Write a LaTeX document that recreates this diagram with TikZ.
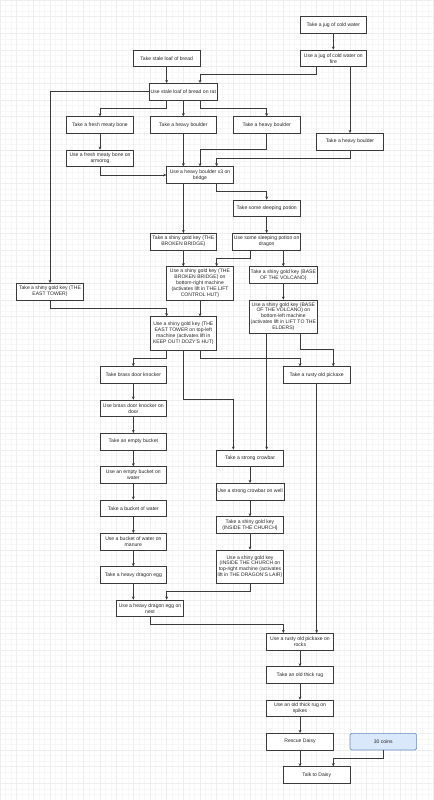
\documentclass[tikz,border=0pt]{standalone}
\usepackage{fontspec}
\setmainfont{Liberation Sans}
\usetikzlibrary{arrows.meta,calc}
\definecolor{boxline}{HTML}{3A3A3A}
\definecolor{gridminor}{HTML}{F7F7F7}
\definecolor{gridmajor}{HTML}{EEEEEE}
\definecolor{coinfill}{HTML}{DAE8FC}
\definecolor{coinline}{HTML}{6C8EBF}

\begin{document}
\begin{tikzpicture}[
        x=.15cm,y=-.15cm,>=Stealth,
        task/.style={rectangle,draw=boxline,line width=.5pt,fill=white,
          minimum width=1.8cm,minimum height=.45cm,inner sep=1pt,
          align=center,font=\fontsize{3.9}{4.6}\selectfont,text=black!85},
        tall/.style={task,minimum height=.9cm},
        reward/.style={task,draw=coinline,fill=coinfill,rounded corners=1.2pt},
        flow/.style={-{Stealth[length=2.4pt,width=2.2pt]},draw=boxline,
          line width=.5pt}
      ]
        % page and grid
        \useasboundingbox[fill=white] (0,0) rectangle (78.12,144);
        \foreach \i in {0,...,78} \draw[gridminor,line width=.3pt] (\i,0) -- (\i,144);
        \foreach \j in {0,...,144} \draw[gridminor,line width=.3pt] (0,\j) -- (78.12,\j);
        \foreach \i in {0,3,...,78} \draw[gridmajor,line width=.3pt] (\i,0) -- (\i,144);
        \foreach \j in {0,3,...,144} \draw[gridmajor,line width=.3pt] (0,\j) -- (78.12,\j);

        % top part
        \node[task] (jugT) at (60,4.5) {Take a jug of cold water};
        \node[task] (jugU) at (60,10.5) {Use a jug of cold water on\\fire};
        \node[task] (breadT) at (30,10.5) {Take stale loaf of bread};
        \node[task] (breadU) at (33,16.5) {Use stale loaf of bread on rat};
        \node[task] (boneT) at (18,22.5) {Take a fresh meaty bone};
        \node[task] (boulderA) at (33,22.5) {Take a heavy boulder};
        \node[task] (boulderB) at (48,22.5) {Take a heavy boulder};
        \node[task] (boulderC) at (63,25.5) {Take a heavy boulder};
        \node[task] (boneU) at (18,28.5) {Use a fresh meaty bone on\\armorog};
        \node[task] (boulderU) at (36,31.5) {Use a heavy boulder x3 on\\bridge};
        \node[task] (potionT) at (48,37.5) {Take some sleeping potion};
        \node[task] (keyBBT) at (33,43.5) {Take a shiny gold key (THE\\BROKEN BRIDGE)};
        \node[task] (potionU) at (48,43.5) {Use some sleeping potion on\\dragon};
        \node[tall] (keyBBU) at (36,51) {Use a shiny gold key (THE\\BROKEN BRIDGE) on\\bottom-right machine\\(activates lift in THE LIFT\\CONTROL HUT)};
        \node[task] (keyVT) at (51,49.5) {Take a shiny gold key (BASE\\OF THE VOLCANO)};
        \node[task] (keyETT) at (9,52.5) {Take a shiny gold key (THE\\EAST TOWER)};
        \node[tall] (keyVU) at (51,57) {Use a shiny gold key (BASE\\OF THE VOLCANO) on\\bottom-left machine\\(activates lift in LIFT TO THE\\ELDERS)};
        \node[tall] (keyETU) at (33,60) {Use a shiny gold key (THE\\EAST TOWER on top-left\\machine (activates lift in\\KEEP OUT! DOZY'S HUT)};

        % middle part
        \node[task] (knockT) at (24,67.5) {Take brass door knocker};
        \node[task] (pickT) at (57,67.5) {Take a rusty old pickaxe};
        \node[task] (knockU) at (24,73.5) {Use brass door knocker on\\door};
        \node[task] (bucketT) at (24,79.5) {Take an empty bucket};
        \node[task] (crowT) at (45,82.5) {Take a strong crowbar};
        \node[task] (bucketU) at (24,85.5) {Use an empty bucket on\\water};
        \node[task] (crowU) at (45,88.5) {Use a strong crowbar on well};
        \node[task] (waterT) at (24,91.5) {Take a bucket of water};
        \node[task] (keyCT) at (45,94.5) {Take a shiny gold key\\(INSIDE THE CHURCH)};
        \node[task] (manureU) at (24,97.5) {Use a bucket of water on\\manure};
        \node[tall] (keyCU) at (45,102) {Use a shiny gold key\\(INSIDE THE CHURCH on\\top-right machine (activates\\lift in THE DRAGON'S LAIR)};
        \node[task] (eggT) at (24,103.5) {Take a heavy dragon egg};
        \node[task] (eggU) at (27,109.5) {Use a heavy dragon egg on\\nest};

        % bottom part
        \node[task] (rocksU) at (54,115.5) {Use a rusty old pickaxe on\\rocks};
        \node[task] (rugT) at (54,121.5) {Take an old thick rug};
        \node[task] (rugU) at (54,127.5) {Use an old thick rug on\\spikes};
        \node[task] (rescue) at (54,133.5) {Rescue Daisy};
        \node[reward] (coins) at (69,133.5) {30 coins};
        \node[task] (talk) at (57,139.5) {Talk to Daisy};

        % connectors
        \draw[flow] (jugT) -- (jugU);
        \draw[flow] ($(jugU.south)+(-3,0)$) |- ($(breadU.north)+(3,-1.5)$) -- ($(breadU.north)+(3,0)$);
        \draw[flow] (jugU.south -| boulderC) -- (boulderC.north);
        \draw[flow] (breadT) -- (breadT |- breadU.north);
        \draw[flow] (breadU.west) -| (keyETT);
        \draw[flow] ($(breadU.south)+(-3,0)$) |- ($(boneT.north)+(0,-1.5)$) -- (boneT.north);
        \draw[flow] (breadU) -- (boulderA);
        \draw[flow] ($(breadU.south)+(3,0)$) |- ($(boulderB.north)+(0,-1.5)$) -- (boulderB.north);
        \draw[flow] (boneT) -- (boneU);
        \draw[flow] (boneU.south) |- (boulderU.west);
        \draw[flow] (boulderA.south) -- ($(boulderU.north)+(-3,0)$);
        \draw[flow] (boulderB.south) |- ($(boulderU.north)+(0,-3)$) -- (boulderU.north);
        \draw[flow] (boulderC.south) |- ($(boulderU.north)+(3,-1.5)$) -- ($(boulderU.north)+(3,0)$);
        \draw[flow] ($(boulderU.south)+(-3,0)$) -- (keyBBT.north);
        \draw[flow] ($(boulderU.south)+(3,0)$) |- ($(potionT.north)+(0,-1.5)$) -- (potionT.north);
        \draw[flow] (potionT) -- (potionU);
        \draw[flow] (keyBBT.south) -- ($(keyBBU.north)+(-3,0)$);
        \draw[flow] ($(potionU.south)+(-3,0)$) |- ($(keyBBU.north)+(3,-1.5)$) -- ($(keyBBU.north)+(3,0)$);
        \draw[flow] ($(potionU.south)+(3,0)$) -- (keyVT.north);
        \draw[flow] (keyVT) -- (keyVU);
        \draw[flow] (keyETT.south) |- ($(keyETU.north)+(-3,-1.5)$) -- ($(keyETU.north)+(-3,0)$);
        \draw[flow] (keyBBU.south) -- ($(keyETU.north)+(3,0)$);
        \draw[flow] ($(keyETU.south)+(-3,0)$) |- ($(knockT.north)+(0,-1.5)$) -- (knockT.north);
        \draw[flow] (keyETU.south) |- ($(crowT.north)+(-3,-9)$) -- ($(crowT.north)+(-3,0)$);
        \draw[flow] ($(keyETU.south)+(3,0)$) |- ($(pickT.north)+(-3,-1.5)$) -- ($(pickT.north)+(-3,0)$);
        \draw[flow] ($(keyVU.south)+(3,0)$) |- ($(pickT.north)+(3,-3)$) -- ($(pickT.north)+(3,0)$);
        \draw[flow] ($(keyVU.south)+(-3,0)$) -- ($(crowT.north)+(3,0)$);
        \foreach \a/\b in {knockT/knockU,knockU/bucketT,bucketT/bucketU,bucketU/waterT,
            waterT/manureU,manureU/eggT,crowT/crowU,crowU/keyCT,keyCT/keyCU,
            rocksU/rugT,rugT/rugU,rugU/rescue}{
          \draw[flow] (\a) -- (\b);
        }
        \draw[flow] (eggT.south) -- ($(eggU.north)+(-3,0)$);
        \draw[flow] (keyCU.south) |- ($(eggU.north)+(3,-1.5)$) -- ($(eggU.north)+(3,0)$);
        \draw[flow] (eggU.south) |- ($(rocksU.north)+(-3,-1.5)$) -- ($(rocksU.north)+(-3,0)$);
        \draw[flow] (pickT.south) -- ($(rocksU.north)+(3,0)$);
        \draw[flow] (rescue.south) -- ($(talk.north)+(-3,0)$);
        \draw[flow] (coins.south) |- ($(talk.north)+(3,-1.5)$) -- ($(talk.north)+(3,0)$);
      \end{tikzpicture}
\end{document}
